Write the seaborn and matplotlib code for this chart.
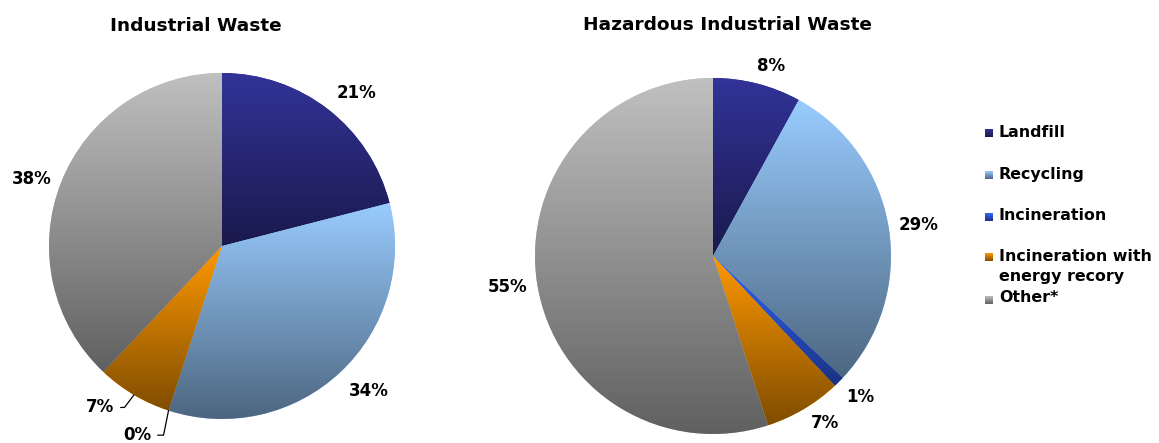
import numpy as np
import matplotlib
matplotlib.use("Agg")
import matplotlib.pyplot as plt
import seaborn as sns
from matplotlib.colors import to_rgb

# ---------------- data ----------------
categories = ["Landfill", "Recycling", "Incineration",
              "Incineration with\nenergy recory", "Other*"]
industrial = [21, 34, 0, 7, 38]
hazardous = [8, 29, 1, 7, 55]
titles = ["Industrial Waste", "Hazardous Industrial Waste"]

# ---------------- style / layout ----------------
palette = sns.color_palette(["#333399", "#99CCFF", "#3366FF", "#FF9900", "#C0C0C0"])
DARK = 0.5

sns.set_theme(style="white")
plt.rcParams['font.family'] = ['DejaVu Sans']

W, H = 1159, 443
fig = plt.figure(figsize=(W / 100, H / 100), dpi=100)
ax = fig.add_axes([0, 0, 1, 1])

# pie layout in pixel units (y up)
pies = [
    dict(values=industrial, center=(222, H - 246), radius=173, title_xy=(195.5, H - 25.7),
         # (radial distance factor, angular nudge in degrees) for plain labels
         labpos=[(1.177, -3.5), (1.195, 2.1), None, None, (1.165, 2.2)],
         # leader-line labels: index -> (distance, angle of text anchor, angleB)
         leaders={2: (1.168, -110.6, 78.5), 3: (1.123, -123.8, 53)}),
    dict(values=hazardous, center=(713, H - 256), radius=178, title_xy=(727, H - 25),
         labpos=[(1.117, -2.7), (1.165, -0.5), (1.148, 1.2), (1.132, 3.2), (1.165, -0.4)],
         leaders={}),
]


def gradient_fill(ax, color, extent, clip=None, z=2):
    top = np.array(to_rgb(color))
    bot = top * DARK
    t = np.linspace(0, 1, 256)[:, None, None]
    img = top[None, None, :] * (1 - t) + bot[None, None, :] * t
    im = ax.imshow(img, extent=extent, origin="upper", aspect="auto",
                   interpolation="bilinear", zorder=z)
    if clip is not None:
        im.set_clip_path(clip)
    return im


for p in pies:
    cx, cy = p["center"]
    R = p["radius"]
    wedges, _ = ax.pie(p["values"], colors=palette, startangle=90, counterclock=False,
                       center=(cx, cy), radius=R, frame=True,
                       wedgeprops=dict(linewidth=0, edgecolor="none"))
    for w, c in zip(wedges, palette):
        if abs(w.theta2 - w.theta1) < 1e-9:
            continue
        bb = w.get_path().get_extents()
        gradient_fill(ax, c, (bb.x0, bb.x1, bb.y0, bb.y1), clip=w, z=2)

    for i, (w, v) in enumerate(zip(wedges, p["values"])):
        lab = f"{v:.0f}%"
        mid = np.deg2rad((w.theta1 + w.theta2) / 2)
        if i in p["leaders"]:
            d, ang, angB = p["leaders"][i]
            a = np.deg2rad(ang)
            px, py = cx + R * np.cos(mid), cy + R * np.sin(mid)
            tx, ty = cx + R * d * np.cos(a), cy + R * d * np.sin(a)
            ax.annotate(lab, xy=(px, py), xytext=(tx, ty), ha="right", va="center",
                        fontsize=12, fontweight="bold", color="black", zorder=5,
                        arrowprops=dict(arrowstyle="-", color="black", lw=0.9,
                                        shrinkA=2.5, shrinkB=0, relpos=(1, 0.5),
                                        connectionstyle=f"angle,angleA=0,angleB={angB},rad=0"))
        else:
            d, nud = p["labpos"][i]
            a = mid + np.deg2rad(nud)
            ax.text(cx + R * d * np.cos(a), cy + R * d * np.sin(a), lab,
                    ha="center", va="center", fontsize=12, fontweight="bold",
                    color="black", zorder=5)

for p, t in zip(pies, titles):
    ax.text(*p["title_xy"], t, ha="center", va="center", fontsize=13.3,
            fontweight="bold", color="black")

# ---------------- legend ----------------
sw_x0, sw_size = 985, 8
sw_cy = [133, 174.5, 216.5, 257, 299.5]
txt_x = 999
txt_cy = [132, 174, 215, 266.5, 297]
for c, name, sy, ty in zip(palette, categories, sw_cy, txt_cy):
    yb = H - sy - sw_size / 2
    gradient_fill(ax, c, (sw_x0, sw_x0 + sw_size, yb, yb + sw_size), z=3)
    ax.text(txt_x, H - ty, name, ha="left", va="center", fontsize=11.4,
            fontweight="bold", color="black", linespacing=1.45)

ax.set_xlim(0, W)
ax.set_ylim(0, H)
ax.set_aspect("equal")
ax.axis("off")

fig.savefig("out.png", dpi=100, facecolor="white")
